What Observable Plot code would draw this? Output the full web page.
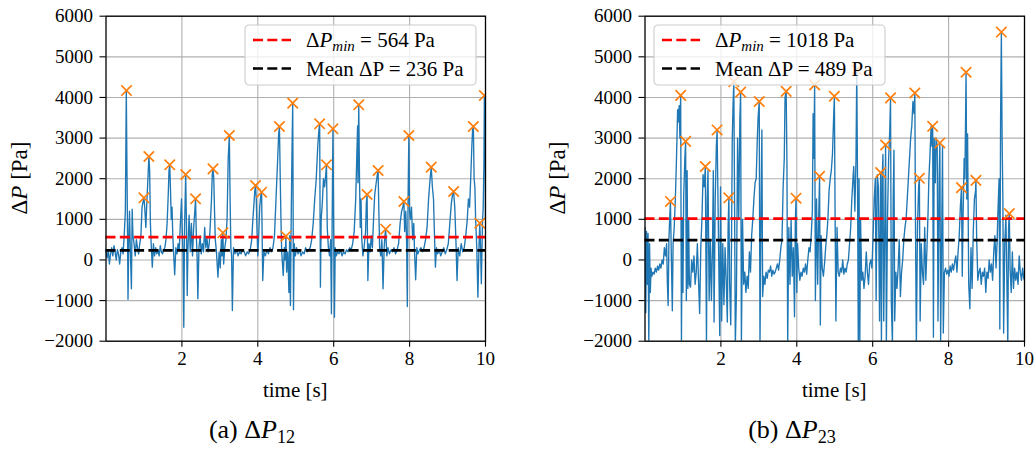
<!DOCTYPE html>
<html>
<head>
<meta charset="utf-8">
<script src="https://cdn.jsdelivr.net/npm/d3@7"></script>
<script src="https://cdn.jsdelivr.net/npm/@observablehq/plot@0.6"></script>
<style>
  html, body { margin: 0; padding: 0; background: #fff; }
  #wrap { position: relative; width: 1035px; height: 452px; overflow: hidden; font-family: 'Liberation Serif', serif; }
  #wrap svg text { font-family: 'Liberation Serif', serif; }
  .panel { position: absolute; top: 0; }
  .cap { position: absolute; top: 415px; font-size: 26px; font-family: 'Liberation Serif', serif; color: #000; white-space: nowrap; transform: translateX(-50%); }
  .cap sub { font-size: 70%; vertical-align: -0.3em; line-height: 0; }
</style>
</head>
<body>
<div id="wrap">
  <div class="panel" id="pa" style="left:0px"></div>
  <div class="panel" id="pb" style="left:520px"></div>
  <div class="cap" style="left:252px">(a) Δ<i>P</i><sub>12</sub></div>
  <div class="cap" style="left:792px">(b) Δ<i>P</i><sub>23</sub></div>
</div>
<script>
// ---------- data ----------
const xTicks = [2, 4, 6, 8, 10];
const yTicks = [-2000, -1000, 0, 1000, 2000, 3000, 4000, 5000, 6000];

const minA = 564, meanA = 236;
const minB = 1018, meanB = 489;

// panel (a): time [s], ΔP12 [Pa]
const seriesA = [
[0.00,200],[0.03,50],[0.06,250],[0.09,-100],[0.12,150],[0.15,300],[0.18,100],[0.21,350],[0.24,200],[0.27,0],
[0.30,250],[0.33,150],[0.36,-100],[0.39,200],[0.42,300],[0.45,150],[0.48,600],[0.51,1200],[0.535,4170],[0.55,2500],
[0.565,900],[0.58,-970],[0.60,500],[0.62,1200],[0.64,300],[0.67,-710],[0.69,1250],[0.71,600],[0.74,400],[0.77,100],
[0.80,500],[0.83,300],[0.86,150],[0.89,400],[0.92,600],[0.95,1300],[0.98,1450],[1.00,1530],[1.02,1300],[1.05,800],
[1.08,1500],[1.11,2100],[1.13,2546],[1.15,2200],[1.17,900],[1.19,400],[1.22,-178],[1.25,400],[1.28,100],[1.31,300],
[1.34,150],[1.37,250],[1.40,100],[1.43,350],[1.46,200],[1.49,150],[1.52,250],[1.55,300],[1.58,500],[1.61,900],
[1.64,1600],[1.66,2200],[1.68,2342],[1.70,1700],[1.72,1000],[1.74,1300],[1.76,600],[1.78,200],[1.81,-366],[1.84,300],
[1.87,150],[1.90,400],[1.93,250],[1.96,900],[1.99,1500],[2.01,700],[2.03,200],[2.05,-1659],[2.07,800],[2.10,2103],
[2.12,900],[2.14,-875],[2.16,300],[2.19,1100],[2.22,200],[2.25,900],[2.28,100],[2.31,800],[2.34,1200],[2.36,1505],
[2.38,600],[2.40,100],[2.42,-957],[2.45,300],[2.48,600],[2.51,150],[2.54,400],[2.57,200],[2.60,800],[2.63,300],
[2.66,550],[2.69,200],[2.72,400],[2.75,900],[2.78,1500],[2.80,2100],[2.82,2243],[2.84,2000],[2.86,1200],[2.88,500],
[2.91,200],[2.95,-424],[2.98,200],[3.01,-200],[3.04,500],[3.06,100],[3.08,668],[3.10,-100],[3.13,300],[3.16,500],
[3.19,1000],[3.22,2500],[3.25,3063],[3.27,1500],[3.29,300],[3.31,100],[3.33,-1245],[3.36,300],[3.40,150],[3.44,250],
[3.48,100],[3.52,200],[3.56,150],[3.60,250],[3.64,200],[3.68,100],[3.72,200],[3.76,150],[3.80,250],[3.84,500],
[3.87,1000],[3.90,1400],[3.92,1700],[3.94,1833],[3.96,1500],[3.98,700],[4.00,100],[4.02,500],[4.05,1300],[4.08,1600],
[4.10,1668],[4.13,-506],[4.16,200],[4.20,100],[4.24,250],[4.28,150],[4.32,300],[4.36,200],[4.40,300],[4.44,600],
[4.48,1500],[4.52,2400],[4.55,3100],[4.57,3285],[4.59,2100],[4.61,1000],[4.63,200],[4.67,-383],[4.70,300],[4.72,0],
[4.74,585],[4.76,-300],[4.79,200],[4.82,-800],[4.84,600],[4.86,-1121],[4.88,1000],[4.90,2600],[4.92,3860],[4.93,1500],
[4.94,-1228],[4.96,400],[4.99,100],[5.02,300],[5.06,150],[5.10,250],[5.14,100],[5.18,200],[5.22,150],[5.26,300],
[5.30,200],[5.34,250],[5.38,300],[5.42,500],[5.46,900],[5.50,1500],[5.54,2000],[5.58,2800],[5.61,3200],[5.63,3351],
[5.65,-670],[5.67,1000],[5.70,1400],[5.73,2000],[5.76,1800],[5.79,2100],[5.81,2342],[5.83,800],[5.86,300],[5.89,100],
[5.92,500],[5.94,-1326],[5.96,1000],[5.98,3228],[6.00,800],[6.02,-1409],[6.04,300],[6.07,100],[6.10,200],[6.14,150],
[6.18,250],[6.22,100],[6.26,200],[6.30,150],[6.34,250],[6.38,200],[6.42,300],[6.46,250],[6.50,400],[6.54,700],
[6.58,1500],[6.61,2600],[6.63,3300],[6.64,1900],[6.66,3819],[6.68,2000],[6.70,800],[6.72,1500],[6.74,500],[6.77,100],
[6.80,300],[6.84,700],[6.86,1400],[6.88,1611],[6.90,-506],[6.93,400],[6.96,200],[6.99,600],[7.02,300],[7.05,1000],
[7.08,1600],[7.12,1900],[7.15,2100],[7.17,2202],[7.19,1200],[7.21,300],[7.24,100],[7.27,500],[7.30,-710],[7.33,300],
[7.35,600],[7.37,757],[7.40,100],[7.43,300],[7.47,150],[7.51,250],[7.55,200],[7.59,300],[7.63,150],[7.67,250],
[7.71,400],[7.75,900],[7.79,1200],[7.82,1300],[7.85,1439],[7.87,700],[7.90,1200],[7.92,500],[7.94,-1146],[7.96,1500],
[7.98,3063],[8.00,1200],[8.02,1000],[8.05,1300],[8.08,500],[8.11,900],[8.13,200],[8.16,-489],[8.19,300],[8.22,150],
[8.26,250],[8.30,300],[8.34,200],[8.38,300],[8.42,500],[8.46,800],[8.50,1500],[8.54,2000],[8.57,2284],[8.60,1800],
[8.63,1500],[8.65,800],[8.68,-178],[8.71,300],[8.74,150],[8.78,250],[8.82,100],[8.86,200],[8.90,300],[8.94,150],
[8.98,250],[9.02,400],[9.06,900],[9.10,1400],[9.13,1600],[9.16,1685],[9.19,1300],[9.22,500],[9.25,-506],[9.28,300],
[9.32,100],[9.36,400],[9.40,200],[9.44,300],[9.48,600],[9.52,1000],[9.55,1500],[9.58,1300],[9.61,2000],[9.64,2800],
[9.66,3200],[9.68,3285],[9.70,2000],[9.72,1800],[9.74,1000],[9.77,300],[9.80,-916],[9.83,400],[9.85,905],[9.87,300],
[9.89,-587],[9.92,900],[9.94,1300],[9.96,2500],[9.97,4048],[9.99,3000],[10.0,1000]
];
const peakTimeA = [0.54,1.00,1.13,1.68,2.10,2.36,2.82,3.08,3.25,3.94,4.10,4.57,4.74,4.92,5.63,5.81,5.98,6.66,6.88,7.17,7.37,7.85,7.98,8.57,9.16,9.68,9.85,9.97];
const peakA     = [4170,1530,2546,2342,2103,1505,2243,668,3063,1833,1668,3285,585,3860,3351,2342,3228,3819,1611,2202,757,1439,3063,2284,1685,3285,905,4048];

// panel (b): time [s], ΔP23 [Pa]
const seriesB = [
[0.00,800],[0.02,-1300],[0.04,700],[0.06,-600],[0.08,650],[0.10,-2100],[0.12,400],[0.14,-800],[0.16,-200],[0.18,-400],
[0.21,-300],[0.24,-350],[0.27,-200],[0.30,-300],[0.33,-150],[0.36,-250],[0.39,-100],[0.42,-200],[0.45,0],[0.48,-100],
[0.51,300],[0.54,100],[0.57,400],[0.59,-600],[0.61,-1120],[0.63,500],[0.65,1000],[0.67,1440],[0.69,300],[0.72,-1250],
[0.74,400],[0.77,800],[0.80,1500],[0.83,2500],[0.86,3700],[0.88,3400],[0.90,3800],[0.92,3000],[0.94,4050],[0.96,-2100],
[0.98,1000],[1.00,-800],[1.02,1600],[1.05,2500],[1.07,2920],[1.09,-1000],[1.11,2200],[1.13,-700],[1.15,1000],[1.17,-600],
[1.20,-670],[1.23,0],[1.26,-300],[1.29,100],[1.32,-600],[1.35,-300],[1.38,400],[1.41,-500],[1.44,-1320],[1.47,300],
[1.50,1000],[1.53,2100],[1.56,1800],[1.59,2300],[1.62,-2100],[1.64,1500],[1.66,2200],[1.69,-1000],[1.72,500],[1.75,-1000],
[1.78,400],[1.80,2200],[1.82,-1530],[1.85,1500],[1.88,2800],[1.90,3200],[1.93,1000],[1.95,-500],[1.97,-1860],[1.99,1800],
[2.02,-1500],[2.05,400],[2.08,-1100],[2.11,300],[2.14,-500],[2.17,-1530],[2.19,800],[2.21,1530],[2.23,-600],[2.26,-1600],
[2.28,500],[2.30,3000],[2.32,3800],[2.34,4390],[2.36,1500],[2.38,-2100],[2.41,-800],[2.44,3000],[2.47,1000],[2.50,3500],
[2.52,4130],[2.54,-2100],[2.57,1000],[2.60,-600],[2.63,-300],[2.66,-800],[2.69,-400],[2.72,-700],[2.75,200],[2.78,-300],
[2.81,600],[2.84,1000],[2.87,1500],[2.90,1900],[2.93,2000],[2.96,3000],[2.98,3500],[3.01,3900],[3.03,-2100],[3.06,1500],
[3.08,3200],[3.10,-900],[3.13,-400],[3.16,-600],[3.19,-300],[3.22,-450],[3.25,-250],[3.28,-300],[3.31,-150],[3.34,-400],
[3.37,-250],[3.40,-350],[3.43,-300],[3.46,-200],[3.49,-100],[3.52,-250],[3.55,0],[3.58,300],[3.61,500],[3.64,1800],
[3.67,2500],[3.69,4000],[3.72,4150],[3.74,2400],[3.76,-2100],[3.79,800],[3.82,-600],[3.85,1000],[3.88,-400],[3.91,300],
[3.94,-1400],[3.96,900],[3.98,1520],[4.00,-800],[4.02,400],[4.05,-200],[4.08,-500],[4.11,-300],[4.14,-400],[4.17,-200],
[4.20,-300],[4.23,-100],[4.26,-350],[4.29,0],[4.32,300],[4.35,200],[4.38,600],[4.41,1200],[4.43,3600],[4.45,2500],
[4.47,4310],[4.49,-1000],[4.52,1500],[4.55,-600],[4.58,1200],[4.60,2060],[4.62,-1600],[4.64,600],[4.67,-200],[4.70,-400],
[4.73,-100],[4.76,300],[4.79,600],[4.82,1000],[4.85,1700],[4.88,2000],[4.91,2200],[4.94,2600],[4.97,3500],[4.99,4030],
[5.01,1000],[5.03,-1500],[5.06,800],[5.09,-300],[5.12,-400],[5.15,-200],[5.18,-300],[5.21,0],[5.24,-350],[5.27,-200],
[5.30,-300],[5.33,-100],[5.36,0],[5.39,400],[5.42,800],[5.45,1500],[5.48,2000],[5.50,2300],[5.53,1200],[5.56,2500],
[5.58,4680],[5.60,2000],[5.62,-2100],[5.64,2000],[5.66,-2100],[5.68,1000],[5.71,-500],[5.74,-300],[5.77,-700],[5.80,-400],
[5.83,200],[5.86,-300],[5.89,-600],[5.92,-100],[5.95,0],[5.98,-200],[6.01,600],[6.04,1500],[6.07,2000],[6.09,-1000],
[6.12,2100],[6.15,1800],[6.18,-1500],[6.21,2150],[6.23,-2100],[6.25,2000],[6.27,2600],[6.29,-1500],[6.32,1000],[6.34,2830],
[6.36,-2100],[6.39,1000],[6.42,2500],[6.45,3200],[6.47,3990],[6.49,-1000],[6.52,-2100],[6.54,1500],[6.56,2700],[6.58,-1500],
[6.61,-300],[6.64,-700],[6.67,-200],[6.70,500],[6.73,-900],[6.76,-300],[6.79,0],[6.82,500],[6.85,800],[6.88,1000],
[6.91,1500],[6.94,2000],[6.97,2500],[7.00,3000],[7.03,3300],[7.06,3900],[7.09,3600],[7.11,4110],[7.13,500],[7.15,-2100],
[7.18,800],[7.21,1800],[7.23,2010],[7.25,-1500],[7.28,400],[7.31,-300],[7.34,-600],[7.37,800],[7.40,-500],[7.43,300],
[7.46,1200],[7.48,2000],[7.51,2600],[7.54,3300],[7.56,2800],[7.58,3290],[7.60,-1900],[7.62,3000],[7.65,1900],[7.67,3000],
[7.70,2800],[7.72,-1500],[7.75,2000],[7.77,2880],[7.79,-2000],[7.82,800],[7.84,2800],[7.86,-1800],[7.89,-300],[7.92,-200],
[7.95,-350],[7.98,-250],[8.01,-400],[8.04,-150],[8.07,-300],[8.10,-100],[8.13,-250],[8.16,-50],[8.19,100],[8.22,-300],
[8.25,200],[8.28,600],[8.31,1300],[8.34,1780],[8.36,-400],[8.38,1000],[8.41,2500],[8.43,2000],[8.46,4620],[8.48,1500],
[8.50,3100],[8.53,-600],[8.56,-1200],[8.59,300],[8.62,-700],[8.65,700],[8.68,1500],[8.71,1700],[8.72,1960],[8.74,500],
[8.77,-500],[8.80,-300],[8.83,-200],[8.86,-600],[8.89,-300],[8.92,-400],[8.95,-200],[8.98,-800],[9.01,-300],[9.04,-450],
[9.07,0],[9.10,-300],[9.13,-100],[9.16,-500],[9.19,200],[9.22,600],[9.25,-200],[9.28,500],[9.30,1200],[9.33,2000],
[9.35,-1700],[9.37,3500],[9.39,5610],[9.41,3000],[9.43,1500],[9.45,-1800],[9.48,400],[9.51,1100],[9.54,-800],[9.56,-2100],
[9.58,800],[9.60,1140],[9.62,-200],[9.65,-800],[9.68,200],[9.71,-700],[9.74,-200],[9.77,-500],[9.80,-300],[9.83,-600],
[9.86,100],[9.89,-300],[9.92,-500],[9.95,-200],[9.98,-450],[10.0,-500]
];
const peakTimeB = [0.67,0.94,1.07,1.59,1.90,2.21,2.34,2.52,3.01,3.72,3.98,4.47,4.60,4.99,5.58,6.21,6.34,6.47,7.11,7.23,7.58,7.77,8.34,8.46,8.72,9.39,9.60];
const peakB     = [1440,4050,2920,2300,3200,1530,4390,4130,3900,4150,1520,4310,2060,4030,4680,2150,2830,3990,4110,2010,3290,2880,1780,4620,1960,5610,1140];

// ---------- drawing ----------
const FONT = "'Liberation Serif', serif";
const fmt = d => d < 0 ? "\u2212" + Math.abs(d) : String(d);

function panel(el, {series, peakT, peakV, pmin, pmean, width, marginLeft, marginRight, legendX, ylabX}) {
  const peaks = peakT.map((t, i) => ({t, v: peakV[i]}));
  const rows = series.map(([t, v]) => ({t, v}));
  const svg = Plot.plot({
    width, height: 400,
    marginLeft, marginRight, marginTop: 15.7, marginBottom: 59.3,
    x: {domain: [0, 10], label: null},
    y: {domain: [-2000, 6000], label: null},
    style: {fontFamily: FONT, fontSize: "19px", color: "#000", background: "transparent", overflow: "visible"},
    marks: [
      Plot.gridX(xTicks, {stroke: "#b0b0b0", strokeOpacity: 1, strokeWidth: 1.1}),
      Plot.gridY(yTicks, {stroke: "#b0b0b0", strokeOpacity: 1, strokeWidth: 1.1}),
      Plot.line(rows, {x: "t", y: "v", stroke: "#1f77b4", strokeWidth: 1.35, clip: true}),
      Plot.ruleY([pmin], {stroke: "#ff0000", strokeWidth: 2.7, strokeDasharray: "10,4.3"}),
      Plot.ruleY([pmean], {stroke: "#000000", strokeWidth: 2.7, strokeDasharray: "10,4.3"}),
      Plot.dot(peaks, {x: "t", y: "v", symbol: "times", r: 4.8, stroke: "#ff7f0e", strokeWidth: 1.7, clip: true}),
      Plot.frame({stroke: "#000", strokeWidth: 1.3}),
      Plot.axisX(xTicks, {tickSize: 6, tickPadding: 4, tickFormat: fmt, strokeWidth: 1.1, fontSize: 19}),
      Plot.axisY(yTicks, {tickSize: 6, tickPadding: 7, tickFormat: fmt, strokeWidth: 1.1, fontSize: 19})
    ]
  });
  el.appendChild(svg);
  const s = d3.select(svg);
  const cx = marginLeft + (width - marginLeft - marginRight) / 2;
  // x label
  s.append("text").attr("x", cx).attr("y", 397).attr("text-anchor", "middle")
    .attr("font-size", 21).attr("fill", "#000").text("time [s]");
  // y label
  const yl = s.append("text").attr("transform", `translate(${ylabX},178) rotate(-90)`)
    .attr("text-anchor", "middle").attr("dominant-baseline", "middle")
    .attr("font-size", 23).attr("fill", "#000");
  yl.append("tspan").text("Δ");
  yl.append("tspan").attr("font-style", "italic").text("P");
  yl.append("tspan").text(" [Pa]");
  // legend
  const g = s.append("g").attr("transform", `translate(${legendX},25)`);
  g.append("rect").attr("x", 0).attr("y", 0).attr("width", 231).attr("height", 60).attr("rx", 4)
    .attr("fill", "#fff").attr("fill-opacity", 0.8).attr("stroke", "#cccccc").attr("stroke-width", 1.1);
  g.append("line").attr("x1", 8).attr("x2", 46).attr("y1", 15).attr("y2", 15)
    .attr("stroke", "#ff0000").attr("stroke-width", 2.7).attr("stroke-dasharray", "10,4.3");
  g.append("line").attr("x1", 8).attr("x2", 46).attr("y1", 43.5).attr("y2", 43.5)
    .attr("stroke", "#000").attr("stroke-width", 2.7).attr("stroke-dasharray", "10,4.3");
  const t1 = g.append("text").attr("x", 61).attr("y", 22).attr("text-anchor", "start")
    .attr("font-size", 21).attr("fill", "#000");
  t1.append("tspan").text("Δ");
  t1.append("tspan").attr("font-style", "italic").text("P");
  t1.append("tspan").attr("font-style", "italic").attr("font-size", 15).attr("dy", 4).text("min");
  t1.append("tspan").attr("dy", -4).text(` = ${pmin} Pa`);
  g.append("text").attr("x", 61).attr("y", 50.5).attr("text-anchor", "start")
    .attr("font-size", 21).attr("fill", "#000")
    .text(`Mean ΔP = ${pmean} Pa`);
}

panel(document.getElementById("pa"), {series: seriesA, peakT: peakTimeA, peakV: peakA, pmin: minA, pmean: meanA,
  width: 515, marginLeft: 105.5, marginRight: 30, legendX: 245, ylabX: 22});
panel(document.getElementById("pb"), {series: seriesB, peakT: peakTimeB, peakV: peakB, pmin: minB, pmean: meanB,
  width: 515, marginLeft: 124.5, marginRight: 11, legendX: 134, ylabX: 40});
</script>
</body>
</html>
